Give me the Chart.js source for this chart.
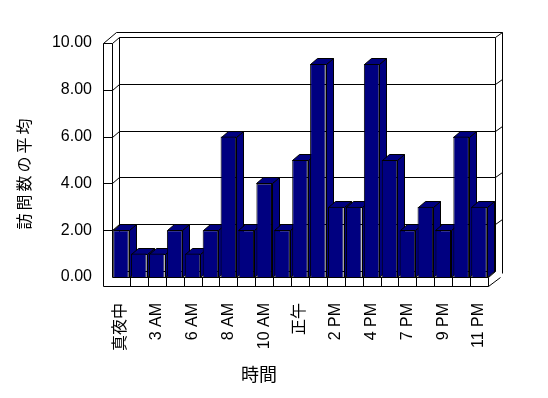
<!DOCTYPE html>
<html>
<head>
<meta charset="utf-8">
<script src="https://cdn.jsdelivr.net/npm/chart.js@4/dist/chart.umd.min.js"></script>
<style>
  html, body { margin: 0; padding: 0; background: #fff; }
  #wrap { width: 548px; height: 398px; }
</style>
</head>
<body>
<div id="wrap"><canvas id="chart" width="548" height="398"></canvas></div>
<script>
// ====== data ======
const hours = [
  "真夜中", "1 AM", "3 AM", "5 AM", "6 AM", "7 AM", "8 AM", "9 AM", "10 AM", "11 AM",
  "正午", "1 PM", "2 PM", "3 PM", "4 PM", "5 PM", "7 PM", "8 PM", "9 PM", "10 PM", "11 PM",
];
const avgVisits = [2, 1, 1, 2, 1, 2, 6, 2, 4, 2, 5, 9.1, 3, 3, 9.1, 5, 2, 3, 2, 6, 3];
const yTicks = [0, 2, 4, 6, 8, 10];
const yTitle = "訪問数の平均";
const xTitle = "時間";

// ====== 3D look ======
const DX = 7, DY = -6;
const NAVY = "#000080";
const LATIN = "'Liberation Sans', 'Noto Sans CJK JP', sans-serif";
const px = (v) => Math.round(v) + 0.5;

function line(ctx, pts) {
  ctx.beginPath();
  ctx.moveTo(px(pts[0][0]), px(pts[0][1]));
  for (let i = 1; i < pts.length; i++) ctx.lineTo(px(pts[i][0]), px(pts[i][1]));
  ctx.stroke();
}

function poly(ctx, pts) {
  ctx.beginPath();
  ctx.moveTo(px(pts[0][0]), px(pts[0][1]));
  for (let i = 1; i < pts.length; i++) ctx.lineTo(px(pts[i][0]), px(pts[i][1]));
  ctx.closePath();
  ctx.fill();
  ctx.stroke();
}

const box3d = {
  id: "box3d",
  beforeDatasetsDraw(chart) {
    const ctx = chart.ctx;
    const { left, right, top, bottom } = chart.chartArea;
    const ys = chart.scales.y;
    const xs = chart.scales.x;
    const slot = (right - left) / hours.length;
    const wallL = left - 9, floorB = bottom + 9;

    ctx.save();
    ctx.strokeStyle = "#000";
    ctx.lineWidth = 1;

    // back wall (inner face) + gridlines
    line(ctx, [[left + DX, top + DY], [left + DX, bottom + DY]]);
    line(ctx, [[right + DX, top + DY], [right + DX, bottom + DY]]);
    yTicks.forEach((v) => {
      const y = ys.getPixelForValue(v);
      line(ctx, [[left + DX, y + DY], [right + DX, y + DY]]);
      if (v > 0) {
        line(ctx, [[left, y], [left + DX, y + DY]]);
        line(ctx, [[right + DX, y + DY], [right + DX + 7, y + DY - 5]]);
        if (v < 10) line(ctx, [[wallL, y], [left, y]]);
      }
    });

    // back wall outer edge
    line(ctx, [[wallL, top], [left + 4, top - 11], [right + DX + 7, top - 11], [right + DX + 7, bottom - 4]]);

    // left wall front face
    line(ctx, [[wallL, top], [wallL, floorB]]);
    line(ctx, [[wallL, top], [left, top], [left, bottom]]);

    // floor
    line(ctx, [[left, bottom], [right, bottom], [right + DX, bottom + DY]]);
    line(ctx, [[wallL, floorB], [right, floorB], [right + 12, floorB - 9]]);
    line(ctx, [[right, bottom], [right, floorB]]);
    for (let i = 1; i < hours.length; i++) {
      const x = xs.getPixelForValue(i) - slot / 2;
      line(ctx, [[x, bottom], [x, floorB]]);
    }

    // bar side + top faces (front faces are drawn by Chart.js)
    ctx.fillStyle = NAVY;
    chart.getDatasetMeta(0).data.forEach((bar) => {
      const l = bar.x - bar.width / 2, r = bar.x + bar.width / 2;
      poly(ctx, [[r, bar.y], [r + DX, bar.y + DY], [r + DX, bar.base + DY], [r, bar.base]]);
      poly(ctx, [[l, bar.y], [l + DX, bar.y + DY], [r + DX, bar.y + DY], [r, bar.y]]);
    });
    ctx.restore();
  },
  afterDraw(chart) {
    const ctx = chart.ctx;
    ctx.save();
    ctx.fillStyle = "#000";
    ctx.textAlign = "center";
    ctx.textBaseline = "middle";
    ctx.font = "16px 'Noto Sans CJK JP'";
    ctx.letterSpacing = "3px";
    ctx.translate(24, 174);
    ctx.rotate(-Math.PI / 2);
    ctx.fillText(yTitle, 1.5, 0);
    ctx.restore();

    ctx.save();
    ctx.fillStyle = "#000";
    ctx.textAlign = "center";
    ctx.textBaseline = "middle";
    ctx.font = "18px 'Noto Sans CJK JP'";
    ctx.fillText(xTitle, 259, 374);
    ctx.restore();
  },
};

new Chart(document.getElementById("chart"), {
  type: "bar",
  data: {
    labels: hours,
    datasets: [{
      data: avgVisits,
      backgroundColor: NAVY,
      borderColor: "#000",
      borderWidth: 1,
      barPercentage: 0.87,
      categoryPercentage: 1,
    }],
  },
  options: {
    responsive: false,
    animation: false,
    layout: { padding: { top: 43, right: 60, left: 0, bottom: 0 } },
    plugins: { legend: { display: false }, tooltip: { enabled: false } },
    scales: {
      x: {
        grid: { display: false },
        border: { display: false },
        ticks: {
          autoSkip: false,
          minRotation: 90,
          maxRotation: 90,
          padding: 18,
          color: "#000",
          font: { family: LATIN, size: 16 },
          callback: (v, i) => (i % 2 === 0 ? hours[i] : ""),
        },
        afterFit: (s) => { s.height = 121; },
      },
      y: {
        min: 0,
        max: 10,
        grid: { display: false },
        border: { display: false },
        ticks: {
          stepSize: 2,
          padding: 12,
          color: "#000",
          font: { family: LATIN, size: 16 },
          callback: (v) => v.toFixed(2),
        },
        afterFit: (s) => { s.width = 112; },
      },
    },
  },
  plugins: [box3d],
});
</script>
</body>
</html>
